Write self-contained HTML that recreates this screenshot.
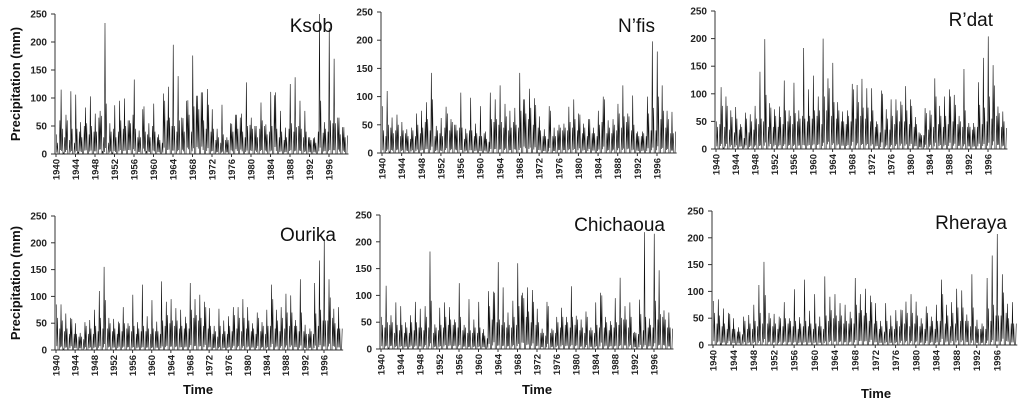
<!DOCTYPE html>
<html><head><meta charset="utf-8">
<style>
html,body{margin:0;padding:0;background:#fff;}
svg{display:block;font-family:"Liberation Sans",Arial,sans-serif;}
</style></head>
<body>
<svg id="chart" width="1024" height="408" viewBox="0 0 1024 408"></svg>
<script>
// Shared axis data
const yTicks = [0, 50, 100, 150, 200, 250];
const yearTicks = [1940,1944,1948,1952,1956,1960,1964,1968,1972,1976,1980,1984,1988,1992,1996];
const stationNames = ["Ksob","N’fis","R’dat","Ourika","Chichaoua","Rheraya"];

// Quarterly precipitation (mm): per year [winter, spring, summer, autumn], 1940-1999
const ksobValues = [
35,20,0,60, 115,45,2,30, 70,60,0,25, 112,45,0,20, 106,45,3,40, 57,30,0,50, 83,55,0,35, 103,50,0,40, 72,40,0,65, 77,68,5,30,
234,90,0,20, 55,40,2,45, 87,30,0,40, 95,60,0,45, 99,50,0,60, 60,55,0,70, 133,45,0,30, 42,30,0,80, 85,40,5,35, 55,30,0,50,
90,40,0,30, 35,25,0,20, 108,95,0,60, 120,65,0,50, 195,50,0,40, 139,60,0,65, 64,40,0,95, 96,70,0,40, 176,85,0,104, 104,80,0,110,
110,60,0,45, 116,88,0,40, 80,45,0,25, 45,30,0,20, 88,35,0,25, 30,25,0,55, 54,40,0,70, 70,45,0,65, 72,40,0,30, 128,50,0,52,
65,45,0,50, 50,30,0,45, 92,60,0,50, 53,35,0,40, 111,50,0,105, 110,45,0,30, 77,40,0,25, 47,30,0,45, 125,55,0,40, 137,48,0,50,
95,45,0,30, 77,40,0,30, 30,25,0,28, 30,20,0,40, 250,95,0,38, 57,45,0,40, 225,60,0,55, 170,55,0,65, 65,35,0,48, 48,30,0,33];
const nfisValues = [
83,40,0,30, 110,50,2,45, 63,35,0,40, 68,50,0,30, 55,40,0,35, 42,30,0,25, 45,40,0,30, 70,50,0,35, 75,45,0,55, 90,60,0,40,
142,95,0,30, 48,40,0,35, 62,30,0,45, 82,70,0,40, 60,55,0,50, 50,40,0,45, 107,45,0,25, 43,35,0,40, 98,40,0,30, 52,35,0,30,
83,30,0,35, 38,25,0,20, 107,60,0,55, 95,60,0,50, 120,55,0,45, 87,65,0,40, 75,45,0,55, 80,50,0,45, 142,75,0,95, 95,70,0,60,
114,80,0,50, 97,85,0,45, 65,40,0,30, 42,30,0,25, 83,75,0,30, 45,30,0,40, 50,45,0,40, 52,45,0,40, 82,55,0,45, 95,60,0,40,
70,68,0,35, 52,45,0,30, 60,60,0,35, 45,35,0,30, 75,50,0,55, 100,95,0,35, 58,45,0,35, 60,50,0,40, 87,70,0,45, 120,65,0,55,
70,65,0,40, 102,50,0,35, 38,30,0,30, 38,35,0,30, 100,70,0,40, 198,80,0,40, 180,100,0,60, 120,75,0,45, 75,60,0,35, 73,35,0,38];
const rdatValues = [
50,40,0,45, 112,78,2,40, 95,78,0,35, 70,58,0,30, 76,55,0,35, 45,40,0,20, 66,55,0,30, 63,50,0,35, 78,55,0,45, 140,55,0,50,
199,98,0,40, 83,75,0,40, 72,60,0,40, 77,58,0,45, 124,70,0,50, 70,60,0,45, 120,65,0,50, 70,55,0,60, 183,55,0,50, 108,60,0,55,
133,70,0,60, 95,70,0,45, 200,95,0,70, 128,110,0,60, 156,85,0,55, 85,70,0,50, 68,50,0,45, 70,60,0,50, 118,108,0,55, 116,85,0,60,
127,75,0,55, 110,75,0,50, 110,70,0,40, 50,45,0,30, 106,100,0,35, 72,55,0,35, 90,60,0,45, 90,70,0,50, 86,80,0,50, 114,70,0,45,
90,78,0,40, 58,45,0,30, 28,25,0,25, 74,65,0,35, 70,62,0,40, 128,95,0,45, 78,60,0,40, 95,60,0,45, 108,95,0,50, 98,80,0,45,
60,50,0,40, 145,70,0,40, 47,40,0,35, 47,40,0,40, 121,80,0,45, 165,75,0,50, 204,95,0,55, 152,115,0,60, 77,65,0,40, 68,50,0,38];
const ourikaValues = [
85,60,0,40, 85,55,2,35, 68,40,0,30, 60,58,0,30, 50,30,0,25, 32,25,0,20, 52,45,0,30, 56,40,0,30, 75,45,0,35, 110,60,0,40,
155,93,0,40, 60,50,0,35, 58,40,0,30, 53,50,0,35, 80,50,0,40, 50,45,0,35, 103,45,0,30, 52,40,0,35, 122,45,0,35, 63,40,0,30,
93,40,0,35, 53,35,0,30, 128,55,0,45, 90,65,0,50, 95,55,0,45, 78,55,0,40, 75,45,0,40, 62,50,0,40, 125,75,0,60, 95,65,0,55,
103,60,0,45, 90,80,0,40, 78,45,0,30, 45,35,0,25, 77,45,0,30, 55,35,0,30, 63,45,0,35, 80,65,0,40, 80,60,0,35, 95,60,0,40,
80,55,0,35, 50,40,0,30, 70,60,0,35, 52,45,0,30, 75,45,0,45, 122,95,0,40, 75,55,0,35, 80,60,0,40, 105,70,0,45, 102,70,0,45,
56,45,0,35, 132,70,0,35, 47,30,0,30, 40,35,0,30, 125,68,0,45, 167,75,0,55, 207,55,0,55, 132,98,0,60, 77,50,0,40, 80,40,0,40];
const chichaouaValues = [
60,45,0,40, 118,50,2,45, 63,50,0,30, 87,45,0,35, 80,45,0,30, 50,40,0,30, 63,50,0,35, 88,50,0,40, 75,40,0,35, 80,60,0,40,
182,90,0,30, 46,40,0,35, 77,45,0,40, 87,60,0,45, 78,55,0,45, 55,50,0,40, 123,60,0,35, 45,40,0,30, 93,35,0,30, 55,40,0,30,
88,40,0,30, 37,25,0,20, 108,80,0,55, 107,105,0,50, 162,55,0,45, 115,50,0,40, 68,45,0,40, 90,60,0,45, 160,80,0,100, 105,95,0,60,
115,70,0,50, 110,88,0,45, 75,50,0,30, 38,30,0,25, 88,80,0,30, 38,35,0,30, 60,50,0,40, 77,60,0,45, 60,50,0,40, 117,60,0,45,
62,55,0,35, 55,40,0,30, 70,60,0,35, 40,35,0,30, 87,45,0,40, 105,100,0,40, 60,50,0,35, 52,45,0,40, 95,50,0,45, 133,58,0,55,
80,55,0,40, 87,60,0,30, 32,30,0,28, 92,65,0,35, 218,60,0,40, 57,45,0,40, 215,90,0,55, 147,65,0,60, 72,55,0,40, 68,40,0,38];
const rherayaValues = [
82,60,0,40, 85,55,2,35, 68,40,0,30, 60,58,0,30, 50,30,0,25, 33,25,0,20, 53,45,0,30, 56,40,0,30, 75,45,0,35, 112,60,0,40,
155,93,0,40, 60,50,0,35, 58,40,0,30, 53,50,0,35, 80,50,0,40, 50,45,0,35, 104,45,0,30, 52,40,0,35, 122,45,0,35, 64,40,0,30,
95,40,0,35, 53,35,0,30, 128,55,0,45, 90,65,0,50, 95,55,0,45, 78,55,0,40, 75,45,0,40, 62,50,0,40, 125,75,0,60, 95,65,0,55,
105,60,0,45, 92,80,0,40, 78,45,0,30, 45,35,0,25, 78,45,0,30, 55,35,0,30, 65,45,0,35, 66,65,0,40, 81,60,0,35, 95,60,0,40,
81,55,0,35, 50,40,0,30, 72,60,0,35, 53,45,0,30, 75,45,0,45, 122,95,0,40, 75,55,0,35, 80,60,0,40, 105,70,0,45, 102,70,0,45,
57,45,0,35, 132,70,0,35, 47,30,0,30, 40,35,0,30, 125,68,0,45, 167,75,0,55, 207,55,0,55, 132,98,0,60, 77,50,0,40, 80,40,0,40];
const seriesList = [ksobValues, nfisValues, rdatValues, ourikaValues, chichaouaValues, rherayaValues];

// Layout (pixels) per panel
const panels = [
 {ax:55, top:14, zero:154, y1996:328, tx:333, ty:32, left:true, time:null},
 {ax:381, top:12, zero:153, y1996:656, tx:655, ty:32, left:false, time:null},
 {ax:715, top:11, zero:149, y1996:987, tx:993, ty:26, left:false, time:null},
 {ax:55, top:216, zero:350, y1996:323, tx:336, ty:241, left:true, time:[198,394]},
 {ax:380, top:215, zero:349, y1996:653, tx:665, ty:231, left:false, time:[537,394]},
 {ax:712, top:211, zero:345, y1996:996, tx:1007, ty:229, left:false, time:[876,398]}
];

const NS = "http://www.w3.org/2000/svg";
const svg = document.getElementById("chart");
function mk(tag, attrs, parent){
  const e = document.createElementNS(NS, tag);
  for (const k in attrs) e.setAttribute(k, attrs[k]);
  (parent||svg).appendChild(e);
  return e;
}

panels.forEach((p, i) => {
  const g = mk("g", {});
  
  
  const pxYear = (p.y1996 - p.ax) / 56;
  const xScale = t => p.ax + 1 + (t - 1940) * pxYear;
  const yScale = v => p.zero - v / 250 * (p.zero - p.top);
  const endX = xScale(2000);

  const vals = seriesList[i];
  let d = "";
  vals.forEach((v, k) => {
    const t = 1940 + k * 0.25 + 0.05;
    d += (k ? "L" : "M") + xScale(t).toFixed(2) + " " + yScale(v).toFixed(2);
    if (k < vals.length - 1) {
      const low = Math.min(v, vals[k+1]) * 0.12;
      d += "L" + xScale(t + 0.125).toFixed(2) + " " + yScale(low).toFixed(2);
    }
  });
  const line = mk("path", {d: d, fill: "none", stroke: "#111", "stroke-width": 0.6, "stroke-linejoin": "miter"}, g);
  
  

  const yAxis = mk("line", {x1:p.ax, y1:p.top, x2:p.ax, y2:p.zero, stroke:"#333", "stroke-width":1}, g);
  
  
  const xAxis = mk("line", {x1:p.ax, y1:p.zero, x2:endX, y2:p.zero, stroke:"#333", "stroke-width":1}, g);
  
  

  yTicks.forEach(v => {
    const y = yScale(v);
    mk("line", {x1:p.ax-4, y1:y, x2:p.ax, y2:y, stroke:"#333"}, g);
    const tl = mk("text", {x:p.ax-8, y:y+3.5, "text-anchor":"end", "font-size":10, "font-weight":"bold", fill:"#222"}, g);
    tl.textContent = v;
    
    
  });
  yearTicks.forEach(yr => {
    const x = xScale(yr);
    mk("line", {x1:x, y1:p.zero, x2:x, y2:p.zero+3, stroke:"#333"}, g);
    const tl = mk("text", {transform:`translate(${x+3.5},${p.zero+5}) rotate(-90)`, "text-anchor":"end", "font-size":9.5, "font-weight":"bold", fill:"#222"}, g);
    tl.textContent = yr;
    
    
  });

  const title = mk("text", {x:p.tx, y:p.ty, "text-anchor":"end", "font-size":19, fill:"#111"}, g);
  title.textContent = stationNames[i];
  
  

  if (p.left) {
    const cy = (p.top + p.zero) / 2;
    const yt = mk("text", {transform:`translate(20,${cy}) rotate(-90)`, "text-anchor":"middle", "font-size":13, "font-weight":"bold", fill:"#111"}, g);
    yt.textContent = "Precipitation (mm)";
    
    
  }
  if (p.time) {
    const xt = mk("text", {x:p.time[0], y:p.time[1], "text-anchor":"middle", "font-size":13, "font-weight":"bold", fill:"#111"}, g);
    xt.textContent = "Time";
    
    
  }
});
</script>
</body></html>
